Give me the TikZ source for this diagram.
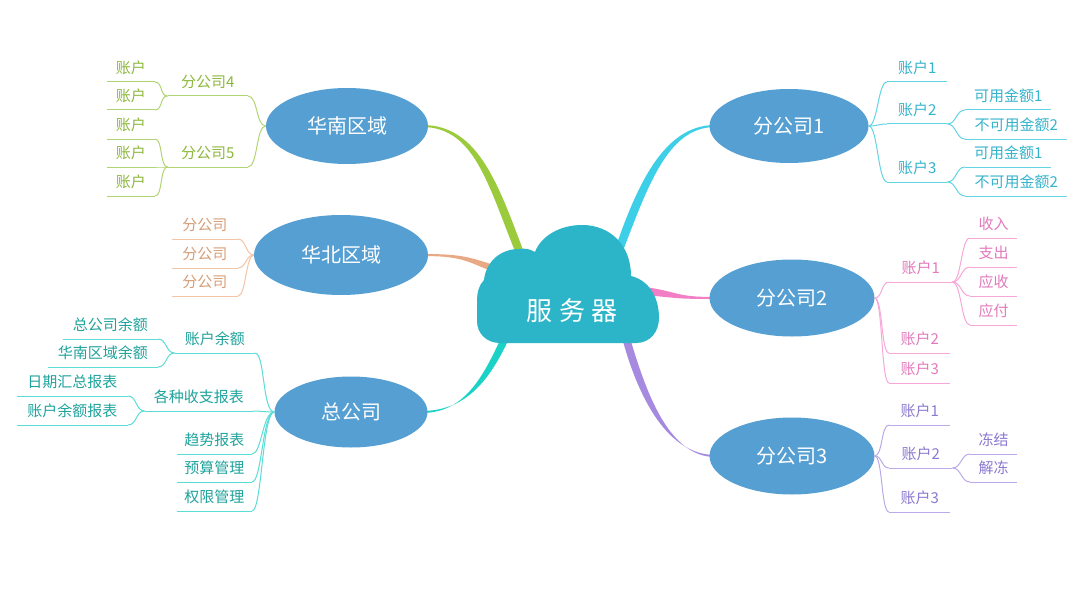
\documentclass[tikz,border=0pt]{standalone}
\usepackage{fontspec}
\setmainfont{Noto Sans CJK SC}
\usetikzlibrary{shapes.geometric,calc,backgrounds}
\definecolor{nodeblue}{HTML}{559FD3}
\definecolor{cloudc}{HTML}{2CB5C8}
\definecolor{gbr}{HTML}{9BCB3C}\definecolor{gline}{HTML}{B2D573}\definecolor{gtext}{HTML}{8DB83C}
\definecolor{obr}{HTML}{E9A985}\definecolor{oline}{HTML}{F3C4A5}\definecolor{otext}{HTML}{D69E78}
\definecolor{tbr}{HTML}{1BD2C6}\definecolor{tline}{HTML}{5ADDD6}\definecolor{ttext}{HTML}{1FA39C}
\definecolor{cbr}{HTML}{3DCFE8}\definecolor{cline}{HTML}{62D4E4}\definecolor{ctext}{HTML}{35B3CB}
\definecolor{pbr}{HTML}{F27FC6}\definecolor{pline}{HTML}{F7A8D8}\definecolor{ptext}{HTML}{E27ABD}
\definecolor{vbr}{HTML}{A68AE0}\definecolor{vline}{HTML}{BBA9EA}\definecolor{vtext}{HTML}{8C79D0}
\begin{document}
\begin{tikzpicture}[x=1pt,y=-1pt]
    \tikzstyle{zone}=[ellipse,fill=nodeblue,text=white,inner sep=0pt,font=\fontsize{20}{23}\selectfont]
    \tikzstyle{twig}=[line width=1pt]
    \tikzset{leaf/.style={font=\fontsize{15}{17}\selectfont,text=#1text,inner xsep=0pt,inner ysep=5pt,
      text height=11pt,text depth=3pt,
      append after command={(\tikzlastnode.south west) edge[draw=#1line,line width=1pt] (\tikzlastnode.south east)}}}
    \useasboundingbox (0,0) rectangle (1086,591);

    \fill[cloudc] (500,343) -- (636,343) .. controls (650,343) and (659,332) .. (659,318)
      .. controls (659,296) and (648,280) .. (631,276) .. controls (631,245) and (610,225) .. (582,225)
      .. controls (560,225) and (541,236) .. (535,252) .. controls (530,249) and (525,248) .. (519,249)
      .. controls (500,249) and (486,262) .. (484,280) .. controls (479,285) and (477,292) .. (477,302)
      -- (477,321) .. controls (477,334) and (487,343) .. (500,343) -- cycle;
    \node[text=white,font=\fontsize{26}{29}\selectfont] (srv) at (572,311) {服\hspace{7pt}务\hspace{7pt}器};

    \node[zone,minimum width=162,minimum height=76] (hn) at (347,126) {华南区域};
    \node[zone,minimum width=174,minimum height=80] (hb) at (341,255) {华北区域};
    \node[zone,minimum width=153,minimum height=71] (zg) at (351,412) {总公司};
    \node[zone,minimum width=159,minimum height=74] (f1) at (789,126) {分公司1};
    \node[zone,minimum width=165,minimum height=77] (f2) at (792,298) {分公司2};
    \node[zone,minimum width=165,minimum height=77] (f3) at (792,456) {分公司3};

    \begin{scope}[on background layer]
      \fill[white] (0,0) rectangle (1086,591);
      \fill[gbr] ($(hn.east)+(-6,-1)$) .. controls +(56,0) and +(-28,-75) .. ($(srv)+(-46,-53)$)
        -- ($(srv)+(-53,-50)$) .. controls +(-30,-72) and +(54,0) .. ($(hn.east)+(-6,1)$) -- cycle;
      \fill[obr] ($(hb.east)+(-6,-1)$) .. controls +(46,0) and +(-40,-12) .. ($(srv)+(-62,-41)$)
        -- ($(srv)+(-65,-34)$) .. controls +(-40,-14) and +(46,0) .. ($(hb.east)+(-6,1)$) -- cycle;
      \fill[tbr] ($(zg.east)+(-6,-1)$) .. controls +(48,0) and +(-20,45) .. ($(srv)+(-59,19)$)
        -- ($(srv)+(-66,16)$) .. controls +(-20,44) and +(46,0) .. ($(zg.east)+(-6,1)$) -- cycle;
      \fill[cbr] ($(f1.west)+(6,-1)$) .. controls +(-51,0) and +(25,-75) .. ($(srv)+(40,-53)$)
        -- ($(srv)+(47,-50)$) .. controls +(28,-72) and +(-49,0) .. ($(f1.west)+(6,1)$) -- cycle;
      \fill[pbr] ($(f2.west)+(6,-1)$) .. controls +(-41,0) and +(35,5) .. ($(srv)+(73,-24)$)
        -- ($(srv)+(72,-16)$) .. controls +(35,3) and +(-41,0) .. ($(f2.west)+(6,1)$) -- cycle;
      \fill[vbr] ($(f3.west)+(6,-1)$) .. controls +(-51,0) and +(15,60) .. ($(srv)+(48,19)$)
        -- ($(srv)+(55,17)$) .. controls +(17,58) and +(-49,0) .. ($(f3.west)+(6,1)$) -- cycle;
    \end{scope}

    \node[leaf=g,anchor=south east,minimum width=80] (g4) at (248,96) {分公司4};
    \node[leaf=g,anchor=south east,minimum width=80] (g5) at (248,167) {分公司5};
    \node[leaf=g,anchor=south east,minimum width=48] (g41) at (155,82) {账户};
    \node[leaf=g,anchor=south east,minimum width=48] (g42) at (155,110) {账户};
    \node[leaf=g,anchor=south east,minimum width=48] (g51) at (155,139) {账户};
    \node[leaf=g,anchor=south east,minimum width=48] (g52) at (155,167) {账户};
    \node[leaf=g,anchor=south east,minimum width=48] (g53) at (155,196) {账户};
    \draw[twig,gline] (hn.west) .. controls +(-10,0) and +(10,0) .. (g4.south east);
    \draw[twig,gline] (hn.west) .. controls +(-10,0) and +(10,0) .. (g5.south east);
    \draw[twig,gline] (g4.south west) .. controls +(-8,0) and +(8,0) .. (g41.south east);
    \draw[twig,gline] (g4.south west) .. controls +(-8,0) and +(8,0) .. (g42.south east);
    \draw[twig,gline] (g5.south west) .. controls +(-8,0) and +(8,0) .. (g51.south east);
    \draw[twig,gline] (g5.south west) .. controls +(-8,0) and +(8,0) .. (g52.south east);
    \draw[twig,gline] (g5.south west) .. controls +(-8,0) and +(8,0) .. (g53.south east);

    \node[leaf=o,anchor=south east,minimum width=66] (b1) at (238,239) {分公司};
    \node[leaf=o,anchor=south east,minimum width=66] (b2) at (238,268) {分公司};
    \node[leaf=o,anchor=south east,minimum width=66] (b3) at (238,296) {分公司};
    \draw[twig,oline] (hb.west) .. controls +(-8,0) and +(8,0) .. (b1.south east);
    \draw[twig,oline] (hb.west) .. controls +(-8,0) and +(8,0) .. (b2.south east);
    \draw[twig,oline] (hb.west) .. controls +(-8,0) and +(8,0) .. (b3.south east);

    \node[leaf=t,anchor=south east,minimum width=80] (z1) at (255,353) {账户余额};
    \node[leaf=t,anchor=south east,minimum width=108] (z2) at (253,411) {各种收支报表};
    \node[leaf=t,anchor=south east,minimum width=75] (z3) at (252,454) {趋势报表};
    \node[leaf=t,anchor=south east,minimum width=75] (z4) at (252,482) {预算管理};
    \node[leaf=t,anchor=south east,minimum width=75] (z5) at (252,511) {权限管理};
    \node[leaf=t,anchor=south east,minimum width=95] (z11) at (158,339) {总公司余额};
    \node[leaf=t,anchor=south east,minimum width=110] (z12) at (158,367) {华南区域余额};
    \node[leaf=t,anchor=south east,minimum width=111] (z21) at (128,396) {日期汇总报表};
    \node[leaf=t,anchor=south east,minimum width=111] (z22) at (128,425) {账户余额报表};
    \draw[twig,tline] (zg.west) .. controls +(-12,0) and +(10,0) .. (z1.south east);
    \draw[twig,tline] (zg.west) .. controls +(-12,0) and +(10,0) .. (z2.south east);
    \draw[twig,tline] (zg.west) .. controls +(-12,0) and +(10,0) .. (z3.south east);
    \draw[twig,tline] (zg.west) .. controls +(-12,0) and +(10,0) .. (z4.south east);
    \draw[twig,tline] (zg.west) .. controls +(-12,0) and +(10,0) .. (z5.south east);
    \draw[twig,tline] (z1.south west) .. controls +(-9,0) and +(9,0) .. (z11.south east);
    \draw[twig,tline] (z1.south west) .. controls +(-9,0) and +(9,0) .. (z12.south east);
    \draw[twig,tline] (z2.south west) .. controls +(-9,0) and +(9,0) .. (z21.south east);
    \draw[twig,tline] (z2.south west) .. controls +(-9,0) and +(9,0) .. (z22.south east);

    \node[leaf=c,anchor=south west,minimum width=60] (c1) at (887,82) {账户1};
    \node[leaf=c,anchor=south west,minimum width=60] (c2) at (887,124) {账户2};
    \node[leaf=c,anchor=south west,minimum width=60] (c3) at (887,182) {账户3};
    \node[leaf=c,anchor=south west,minimum width=86] (c21) at (965,110) {可用金额1};
    \node[leaf=c,anchor=south west,minimum width=102] (c22) at (965,139) {不可用金额2};
    \node[leaf=c,anchor=south west,minimum width=86] (c31) at (965,167) {可用金额1};
    \node[leaf=c,anchor=south west,minimum width=102] (c32) at (965,196) {不可用金额2};
    \draw[twig,cline] (f1.east) .. controls +(9,0) and +(-9,0) .. (c1.south west);
    \draw[twig,cline] (f1.east) .. controls +(9,0) and +(-9,0) .. (c2.south west);
    \draw[twig,cline] (f1.east) .. controls +(9,0) and +(-9,0) .. (c3.south west);
    \draw[twig,cline] (c2.south east) .. controls +(9,0) and +(-9,0) .. (c21.south west);
    \draw[twig,cline] (c2.south east) .. controls +(9,0) and +(-9,0) .. (c22.south west);
    \draw[twig,cline] (c3.south east) .. controls +(9,0) and +(-9,0) .. (c31.south west);
    \draw[twig,cline] (c3.south east) .. controls +(9,0) and +(-9,0) .. (c32.south west);

    \node[leaf=p,anchor=south west,minimum width=63] (p1) at (889,282) {账户1};
    \node[leaf=p,anchor=south west,minimum width=61] (p2) at (889,353) {账户2};
    \node[leaf=p,anchor=south west,minimum width=61] (p3) at (889,383) {账户3};
    \node[leaf=p,anchor=south west,minimum width=47] (p11) at (970,238) {收入};
    \node[leaf=p,anchor=south west,minimum width=47] (p12) at (970,267) {支出};
    \node[leaf=p,anchor=south west,minimum width=47] (p13) at (970,296) {应收};
    \node[leaf=p,anchor=south west,minimum width=47] (p14) at (970,325) {应付};
    \draw[twig,pline] (f2.east) .. controls +(8,0) and +(-8,0) .. (p1.south west);
    \draw[twig,pline] (f2.east) .. controls +(8,0) and +(-8,0) .. (p2.south west);
    \draw[twig,pline] (f2.east) .. controls +(8,0) and +(-8,0) .. (p3.south west);
    \draw[twig,pline] (p1.south east) .. controls +(9,0) and +(-9,0) .. (p11.south west);
    \draw[twig,pline] (p1.south east) .. controls +(9,0) and +(-9,0) .. (p12.south west);
    \draw[twig,pline] (p1.south east) .. controls +(9,0) and +(-9,0) .. (p13.south west);
    \draw[twig,pline] (p1.south east) .. controls +(9,0) and +(-9,0) .. (p14.south west);

    \node[leaf=v,anchor=south west,minimum width=61] (v1) at (889,425) {账户1};
    \node[leaf=v,anchor=south west,minimum width=63] (v2) at (889,468) {账户2};
    \node[leaf=v,anchor=south west,minimum width=61] (v3) at (889,512) {账户3};
    \node[leaf=v,anchor=south west,minimum width=47] (v21) at (970,454) {冻结};
    \node[leaf=v,anchor=south west,minimum width=47] (v22) at (970,482) {解冻};
    \draw[twig,vline] (f3.east) .. controls +(8,0) and +(-8,0) .. (v1.south west);
    \draw[twig,vline] (f3.east) .. controls +(8,0) and +(-8,0) .. (v2.south west);
    \draw[twig,vline] (f3.east) .. controls +(8,0) and +(-8,0) .. (v3.south west);
    \draw[twig,vline] (v2.south east) .. controls +(9,0) and +(-9,0) .. (v21.south west);
    \draw[twig,vline] (v2.south east) .. controls +(9,0) and +(-9,0) .. (v22.south west);
\end{tikzpicture}
\end{document}
